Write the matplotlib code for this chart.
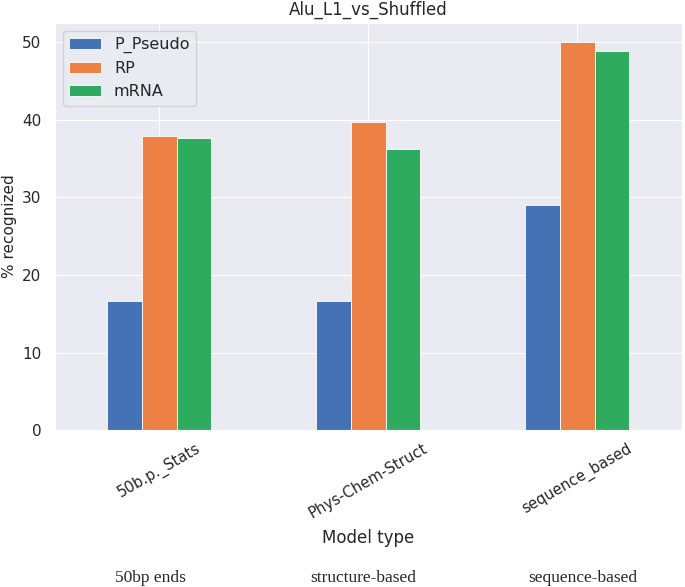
import numpy as np
import matplotlib
matplotlib.use('Agg')
import matplotlib.pyplot as plt
import seaborn as sns
import pandas as pd

sns.set_style('darkgrid')
plt.rcParams['font.family'] = ['DejaVu Sans']

# данные
models = ['50b.p._Stats', 'Phys-Chem-Struct', 'sequence_based']
p_pseudo = [16.7, 16.7, 29.0]
rp = [37.9, 39.7, 50.0]
mrna = [37.7, 36.2, 48.9]
groups = ['50bp ends', 'structure-based', 'sequence-based']
colors = ['#4472b4', '#ec8045', '#2eab5f']

df = pd.DataFrame({'P_Pseudo': p_pseudo, 'RP': rp, 'mRNA': mrna}, index=models)

fig = plt.figure(figsize=(6.85, 5.87), dpi=100)
ax = fig.add_axes([0.080, 0.267, 0.915, 0.694])
df.plot.bar(ax=ax, color=colors, edgecolor='white', linewidth=0.6, width=0.5)

ax.set_title('Alu_L1_vs_Shuffled', fontsize=12)
ax.set_ylabel('% recognized', fontsize=11)
ax.set_xlabel('Model type', fontsize=12)
ax.xaxis.set_label_coords(0.5, -0.243)
ax.tick_params(axis='y', labelsize=11, pad=6)
ax.tick_params(axis='x', labelsize=10.7, pad=4)
ax.set_xticklabels(models, rotation=30, ha='center', va='top')

ax.legend(loc='upper left', fontsize=11.5, frameon=True)

# подписи снизу
for gx, g in zip([150, 363, 583], groups):
    fig.text(gx / 685.0, 1 - 578 / 587.0, g, ha='center', va='center',
             fontsize=12.5, family='Liberation Serif')

fig.savefig('out.png', dpi=100)
